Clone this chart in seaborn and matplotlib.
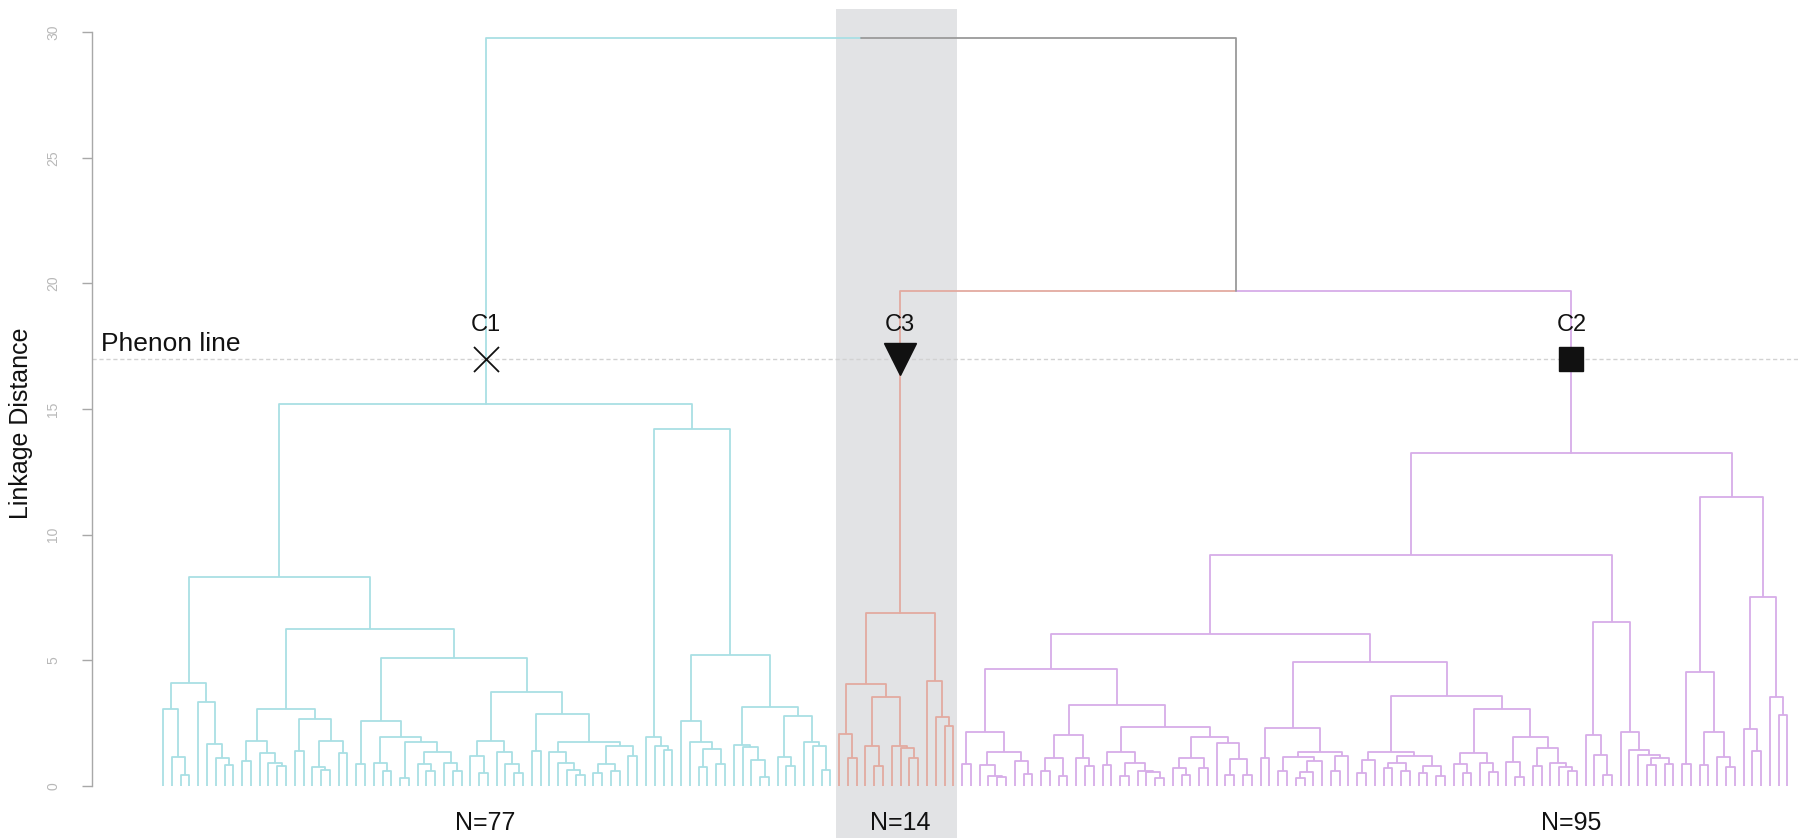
import re
import matplotlib
matplotlib.use("Agg")
import matplotlib.pyplot as plt
from matplotlib.collections import LineCollection
import seaborn as sns

# ---- merge heights, written as nested (left,right)height strings; "*" is a leaf ----
# cluster C1 (77 specimens)
c1_a = "((*,(*,(*,*)0.45)1.17)3.06,(*,(*,(*,(*,*)0.82)1.12)1.68)3.33)4.09"
c1_b = "(((*,*)1.0,(*,(*,(*,*)0.8)0.91)1.33)1.8,((*,*)1.4,((*,(*,*)0.65)0.74,(*,*)1.33)1.8)2.65)3.06"
c1_c = "((*,*)0.86,((*,(*,*)0.6)0.93,((*,*)0.3,((*,(*,*)0.6)0.86,(*,(*,*)0.6)0.9)1.37)1.76)1.96)2.6"
c1_d1 = "((*,(*,*)0.51)1.2,(*,(*,(*,*)0.5)0.86)1.37)1.8"
c1_d2 = "((*,*)1.41,((*,(*,(*,(*,*)0.45)0.63)0.93)1.34,(((*,*)0.5,(*,*)0.6)0.86,(*,*)1.2)1.6)1.76)2.88"
c1_e = "(*,(*,(*,*)1.43)1.6)1.96"
c1_f1 = "(*,(*,((*,*)0.74,(*,*)0.86)1.46)1.76)2.6"
c1_f2 = "((*,(*,(*,(*,*)0.35)1.04)1.57)1.63,((*,(*,*)0.78)1.17,(*,(*,(*,*)0.65)1.6)1.75)2.79)3.16"
c1_tree = (f"(({c1_a},({c1_b},({c1_c},({c1_d1},{c1_d2})3.75)5.08)6.26)8.31,"
           f"({c1_e},({c1_f1},{c1_f2})5.2)14.2)15.2")

# cluster C3 (14 specimens)
c3_tree = "(((*,(*,*)1.1)2.07,((*,(*,*)0.8)1.59,(*,(*,(*,*)1.13)1.5)1.59)3.55)4.05,(*,(*,(*,*)2.39)2.76)4.19)6.9"

# cluster C2 (95 specimens)
c2_p1 = "((*,*)0.88,((*,(*,(*,*)0.35)0.4)0.85,(*,(*,*)0.47)1.0)1.37)2.16"
c2_p2 = "(((*,*)0.6,(*,*)0.4)1.1,(*,(*,*)0.8)1.1)2.03"
c2_p3 = ("(((*,*)0.85,((*,*)0.4,(*,(*,(*,*)0.3)0.55)0.6)0.9)1.37,"
         "(((*,(*,*)0.45)0.7,(*,*)0.7)1.13,(*,((*,*)0.45,(*,*)0.45)1.07)1.7)1.96)2.33")
c2_q1 = "((*,*)1.1,(((*,*)0.6,(((*,*)0.3,*)0.55,*)1.0)1.17,((*,*)0.6,*)1.2)1.37)2.3"
c2_q2 = "(((*,*)0.5,*)1.05,(((*,*)0.7,(*,*)0.6)0.9,((*,*)0.5,(*,*)0.4)0.8)1.2)1.37"
c2_q3 = ("(((*,(*,*)0.5)0.88,(*,(*,*)0.56)0.9)1.3,"
         "((*,(*,*)0.35)0.96,((*,*)0.8,(*,(*,(*,*)0.6)0.75)0.9)1.5)1.96)3.05")
c2_r = "((*,(*,(*,*)0.44)1.23)2.03,(*,(*,(*,((*,*)0.82,(*,*)0.88)1.1)1.23)1.43)2.16)6.54"
c2_s1 = "((*,*)0.88,((*,*)0.85,(*,(*,*)0.75)1.14)2.16)4.55"
c2_s2 = "((*,(*,*)1.41)2.25,(*,(*,*)2.83)3.55)7.51"
c2_tree = (f"(((({c2_p1},({c2_p2},{c2_p3})3.22)4.64,({c2_q1},({c2_q2},{c2_q3})3.58)4.95)6.05,"
           f"{c2_r})9.19,({c2_s1},{c2_s2})11.49)13.24")

# joins above the clusters
h_c3_c2 = 19.68
h_root = 29.77
phenon_level = 17.0

cluster_names = ["C1", "C3", "C2"]
cluster_sizes = ["N=77", "N=14", "N=95"]
cluster_markers = ["x", "v", "s"]
cluster_colors = ["#a9dfe4", "#e3aaa0", "#d7ade8"]
join_color = "#9a9a9a"


def parse(text):
    """Turn a (left,right)height string into nested (height, left, right) tuples."""
    pos = 0

    def node():
        nonlocal pos
        if text[pos] == "*":
            pos += 1
            return None
        pos += 1
        left = node()
        pos += 1
        right = node()
        pos += 1
        num = re.match(r"[0-9.]+", text[pos:]).group()
        pos += len(num)
        return (float(num), left, right)

    return node()


def layout(tree, first_leaf, segs):
    """Place leaves left to right, each merge at the midpoint of its two children."""
    counter = [first_leaf]

    def walk(node):
        if node is None:
            x = counter[0]
            counter[0] += 1
            return x, 0.0
        h, left, right = node
        xl, hl = walk(left)
        xr, hr = walk(right)
        segs.append([(xl, hl), (xl, h), (xr, h), (xr, hr)])
        return (xl + xr) / 2, h

    x, h = walk(tree)
    return x, h, counter[0]


sns.set_style("white")
plt.rcParams["font.family"] = ["Liberation Sans", "DejaVu Sans"]

W, H = 1800, 838
fig = plt.figure(figsize=(W / 100, H / 100), dpi=100)
ax = fig.add_axes([92 / W, 0, 1706 / W, 1])
ax.set_xlim(-8.09, 186.2)
ax.set_ylim(-2.07, 31.28)

trees = [parse(c1_tree), parse(c3_tree), parse(c2_tree)]
tops = []
start = 0
for tree, color in zip(trees, cluster_colors):
    segs = []
    x, h, nxt = layout(tree, start, segs)
    tops.append((x, h, start, nxt - 1))
    start = nxt
    ax.add_collection(LineCollection(segs, colors=color, linewidths=1.3, zorder=2))

(x1, h1, _, _), (x3, h3, s3, e3), (x2, h2, _, _) = tops

# C3 + C2 join: each half takes the colour of its child
x32 = (x3 + x2) / 2
ax.plot([x3, x3, x32], [h3, h_c3_c2, h_c3_c2], color=cluster_colors[1], lw=1.3, zorder=2)
ax.plot([x32, x2, x2], [h_c3_c2, h_c3_c2, h2], color=cluster_colors[2], lw=1.3, zorder=2)
# root join
xr = (x1 + x32) / 2
ax.plot([x1, x1, xr], [h1, h_root, h_root], color=cluster_colors[0], lw=1.3, zorder=2)
ax.plot([xr, x32, x32], [h_root, h_root, h_c3_c2], color=join_color, lw=1.3, zorder=2)

# highlighted band behind the C3 specimens
ax.axvspan(s3 - 0.4, e3 + 0.4, ymin=0, ymax=0.989, color="#e2e3e5", lw=0, zorder=0)

# phenon line
ax.axhline(phenon_level, color="#d2d2d2", lw=1.0, ls=(0, (3, 2)), zorder=1)
ax.text(-7.06, 17.6, "Phenon line", fontsize=19, ha="left", va="center", color="#111111")

for (x, h, _, _), name, size, mk in zip(tops, cluster_names, cluster_sizes, cluster_markers):
    ax.text(x, 18.35, name, fontsize=17, ha="center", va="center", color="#111111")
    ax.text(x, -1.47, size, fontsize=18, ha="center", va="center", color="#111111")
    if mk == "x":
        ax.plot([x], [phenon_level], marker="x", ms=18, mew=1.3, color="#111111", zorder=4)
    elif mk == "v":
        ax.plot([x], [phenon_level], marker="v", ms=23, color="#111111", zorder=4)
    else:
        ax.plot([x], [phenon_level], marker="s", ms=17, color="#111111", zorder=4)

# axis styling
for side in ["top", "right", "bottom"]:
    ax.spines[side].set_visible(False)
ax.spines["left"].set_bounds(0, 30)
ax.spines["left"].set_color("#a8a8a8")
ax.spines["left"].set_linewidth(1.0)
ax.set_xticks([])
ax.set_yticks(range(0, 31, 5))
ax.set_yticklabels([str(v) for v in range(0, 31, 5)], rotation=90, va="center")
ax.tick_params(axis="y", direction="out", length=7, width=1.0, color="#a8a8a8",
               labelcolor="#b8b8b8", labelsize=10, pad=16, left=True)
ax.set_ylabel("Linkage Distance", fontsize=18, color="#111111")
ax.yaxis.set_label_coords(-0.0416, 0.495)
ax.yaxis.label.set_verticalalignment("center")

fig.savefig("out.png", dpi=100)
